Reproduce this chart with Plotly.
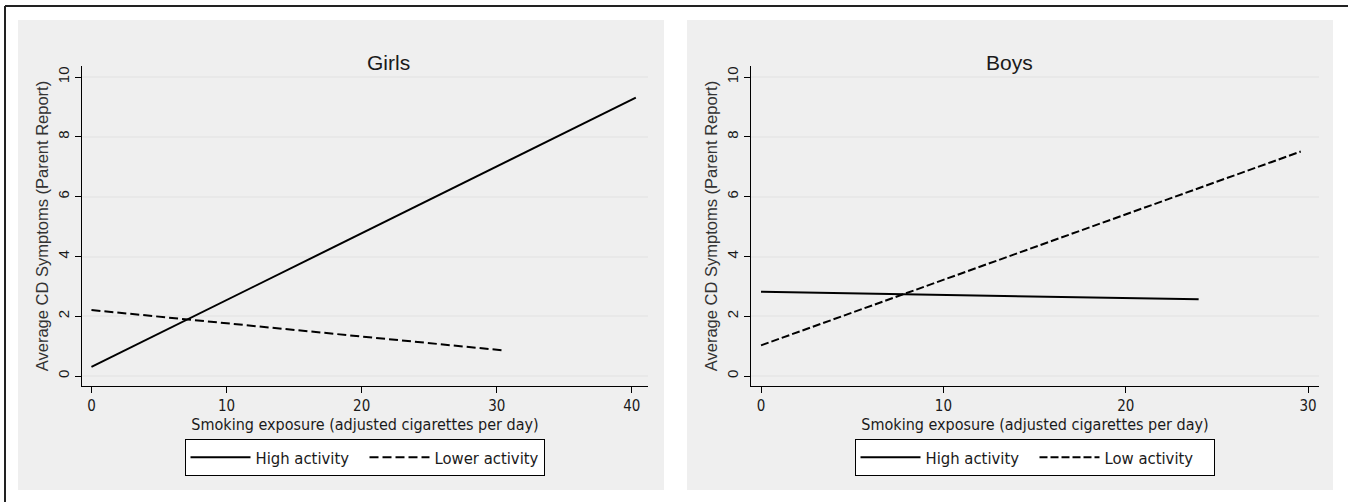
import plotly.graph_objects as go

# ---- data ----
girls_high_x = [0.0, 40.3]
girls_high_y = [0.31, 9.31]
girls_low_x = [0.0, 30.5]
girls_low_y = [2.21, 0.86]

boys_high_x = [0.0, 24.0]
boys_high_y = [2.82, 2.57]
boys_low_x = [0.0, 29.6]
boys_low_y = [1.03, 7.51]

y_ticks = [0, 2, 4, 6, 8, 10]
girls_x_ticks = [0, 10, 20, 30, 40]
boys_x_ticks = [0, 10, 20, 30]

W, H = 1348, 502
COND = "DejaVu Sans Condensed, Liberation Sans Narrow, Arial Narrow, sans-serif"
SANS = "Liberation Sans, Arial, sans-serif"
TXT = "#1a1a1a"

def px_x(v):
    return v / W

def px_y(v):
    return 1 - v / H

fig = go.Figure()

fig.add_trace(go.Scatter(x=girls_high_x, y=girls_high_y, mode="lines", name="High activity",
                         line=dict(color="black", width=2), xaxis="x", yaxis="y", legend="legend"))
fig.add_trace(go.Scatter(x=girls_low_x, y=girls_low_y, mode="lines", name="Lower activity",
                         line=dict(color="black", width=2, dash="9px,4px"), xaxis="x", yaxis="y", legend="legend"))
fig.add_trace(go.Scatter(x=boys_high_x, y=boys_high_y, mode="lines", name="High activity",
                         line=dict(color="black", width=2), xaxis="x2", yaxis="y2", legend="legend2"))
fig.add_trace(go.Scatter(x=boys_low_x, y=boys_low_y, mode="lines", name="Low activity",
                         line=dict(color="black", width=2, dash="8px,3px"), xaxis="x2", yaxis="y2", legend="legend2"))

ydom = [px_y(386), px_y(66)]

common_x = dict(showline=True, linecolor="black", linewidth=1, ticks="outside", ticklen=6,
                tickcolor="black", showgrid=False, zeroline=False,
                tickfont=dict(family=COND, size=15, color=TXT),
                title=dict(text="Smoking exposure (adjusted cigarettes per day)",
                           font=dict(family=COND, size=16, color=TXT), standoff=1))
common_y = dict(showline=True, linecolor="black", linewidth=1, ticks="outside", ticklen=6,
                tickcolor="black", showgrid=True, gridcolor="#e8e8e8", gridwidth=2,
                zeroline=False, tickvals=y_ticks, tickangle=-90, range=[-0.33, 10.37],
                tickfont=dict(family=SANS, size=15, color=TXT),
                title=dict(text="Average CD Symptoms (Parent Report)",
                           font=dict(family=SANS, size=16.5, color="#333"), standoff=2))

leg_common = dict(orientation="h", yanchor="top", y=px_y(439), xanchor="center",
                  bgcolor="white", bordercolor="black", borderwidth=1,
                  font=dict(family=COND, size=16.5, color=TXT), itemwidth=60,
                  entrywidth=104, entrywidthmode="pixels")

fig.update_layout(
    width=W, height=H,
    margin=dict(l=0, r=0, t=0, b=0),
    paper_bgcolor="white", plot_bgcolor="white",
    showlegend=True,
    xaxis=dict(domain=[px_x(82), px_x(648)], range=[-0.7, 41.2], tickvals=girls_x_ticks,
               anchor="y", **common_x),
    yaxis=dict(domain=ydom, anchor="x", **common_y),
    xaxis2=dict(domain=[px_x(751), px_x(1319)], range=[-0.55, 30.6], tickvals=boys_x_ticks,
                anchor="y2", **common_x),
    yaxis2=dict(domain=ydom, anchor="x2", **common_y),
    legend=dict(x=px_x(364.5), **leg_common),
    legend2=dict(x=px_x(1034.5), **leg_common),
    shapes=[
        dict(type="rect", xref="paper", yref="paper", x0=px_x(18), x1=px_x(664),
             y0=px_y(490), y1=px_y(20), fillcolor="#efefef", line=dict(width=0), layer="below"),
        dict(type="rect", xref="paper", yref="paper", x0=px_x(687), x1=px_x(1333),
             y0=px_y(490), y1=px_y(20), fillcolor="#efefef", line=dict(width=0), layer="below"),
        dict(type="line", xref="paper", yref="paper", x0=px_x(5), x1=px_x(5),
             y0=px_y(502), y1=px_y(6), line=dict(color="#222", width=2), layer="above"),
        dict(type="line", xref="paper", yref="paper", x0=px_x(5), x1=1,
             y0=px_y(6), y1=px_y(6), line=dict(color="#222", width=2), layer="above"),
    ],
    annotations=[
        dict(text="Girls", x=px_x(364.5), y=px_y(49), xref="paper", yref="paper",
             showarrow=False, font=dict(family=SANS, size=21, color=TXT)),
        dict(text="Boys", x=px_x(1035), y=px_y(49), xref="paper", yref="paper",
             showarrow=False, font=dict(family=SANS, size=21, color=TXT)),
    ],
)

fig.write_html("out.html", post_script="document.body.style.margin='0';",
               config={"displayModeBar": False})
